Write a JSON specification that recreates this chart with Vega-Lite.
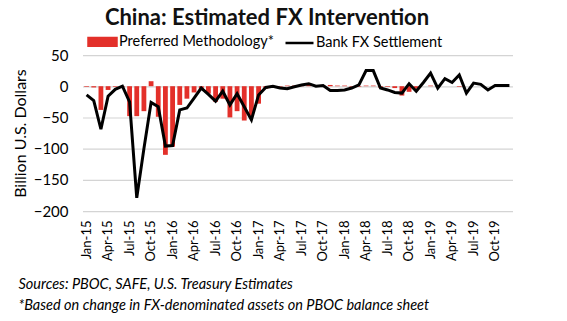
{
  "$schema": "https://vega.github.io/schema/vega-lite/v6.json",
  "width": 430,
  "height": 156,
  "autosize": {"type": "none"},
  "padding": {"left": 83, "top": 55, "right": 54, "bottom": 110},
  "background": "white",
  "config": {"font": "Lato", "view": {"stroke": null}},
  "title": {"text": "China: Estimated FX Intervention", "font": "Lato", "fontSize": 22, "fontWeight": "bold", "color": "#111111", "anchor": "middle", "frame": "group", "dx": -31, "offset": -4},
  "datasets": {
    "grid": [{"g": 50}, {"g": 0}, {"g": -50}, {"g": -100}, {"g": -150}, {"g": -200}],
    "main": [
    {"month": "Jan-15", "pm": -1, "bfx": -14},
    {"month": "Feb-15", "pm": -2, "bfx": -23},
    {"month": "Mar-15", "pm": -38, "bfx": -69},
    {"month": "Apr-15", "pm": -6, "bfx": -16},
    {"month": "May-15", "pm": -1, "bfx": -5},
    {"month": "Jun-15", "pm": -1, "bfx": 0},
    {"month": "Jul-15", "pm": -48, "bfx": -25},
    {"month": "Aug-15", "pm": -48, "bfx": -179},
    {"month": "Sep-15", "pm": -40, "bfx": -100},
    {"month": "Oct-15", "pm": 8, "bfx": -26},
    {"month": "Nov-15", "pm": -49, "bfx": -33},
    {"month": "Dec-15", "pm": -110, "bfx": -96},
    {"month": "Jan-16", "pm": -97, "bfx": -95},
    {"month": "Feb-16", "pm": -30, "bfx": -38},
    {"month": "Mar-16", "pm": -20, "bfx": -35},
    {"month": "Apr-16", "pm": -10, "bfx": -19},
    {"month": "May-16", "pm": -6, "bfx": -3},
    {"month": "Jun-16", "pm": -12, "bfx": -13},
    {"month": "Jul-16", "pm": -25, "bfx": -24},
    {"month": "Aug-16", "pm": -20, "bfx": -8},
    {"month": "Sep-16", "pm": -50, "bfx": -30},
    {"month": "Oct-16", "pm": -40, "bfx": -12},
    {"month": "Nov-16", "pm": -55, "bfx": -33},
    {"month": "Dec-16", "pm": -48, "bfx": -54},
    {"month": "Jan-17", "pm": -28, "bfx": -14},
    {"month": "Feb-17", "pm": -4, "bfx": -2},
    {"month": "Mar-17", "pm": -2, "bfx": 0},
    {"month": "Apr-17", "pm": -1, "bfx": -3},
    {"month": "May-17", "pm": 1, "bfx": -4},
    {"month": "Jun-17", "pm": 1, "bfx": -1},
    {"month": "Jul-17", "pm": 1, "bfx": 2},
    {"month": "Aug-17", "pm": 2, "bfx": 4},
    {"month": "Sep-17", "pm": 1, "bfx": 0},
    {"month": "Oct-17", "pm": 1, "bfx": 1},
    {"month": "Nov-17", "pm": 2, "bfx": -7},
    {"month": "Dec-17", "pm": 1, "bfx": -7},
    {"month": "Jan-18", "pm": 1, "bfx": -6},
    {"month": "Feb-18", "pm": -1, "bfx": -3},
    {"month": "Mar-18", "pm": -1, "bfx": 2},
    {"month": "Apr-18", "pm": 1, "bfx": 25},
    {"month": "May-18", "pm": 1, "bfx": 25},
    {"month": "Jun-18", "pm": -2, "bfx": -3},
    {"month": "Jul-18", "pm": -1, "bfx": -6},
    {"month": "Aug-18", "pm": -3, "bfx": -10},
    {"month": "Sep-18", "pm": -15, "bfx": -11},
    {"month": "Oct-18", "pm": -9, "bfx": 4},
    {"month": "Nov-18", "pm": -4, "bfx": -8},
    {"month": "Dec-18", "pm": 0, "bfx": 6},
    {"month": "Jan-19", "pm": 1, "bfx": 21},
    {"month": "Feb-19", "pm": -1, "bfx": -3},
    {"month": "Mar-19", "pm": 0, "bfx": 12},
    {"month": "Apr-19", "pm": 0, "bfx": 6},
    {"month": "May-19", "pm": -1, "bfx": 18},
    {"month": "Jun-19", "pm": 0, "bfx": -11},
    {"month": "Jul-19", "pm": 0, "bfx": 5},
    {"month": "Aug-19", "pm": 0, "bfx": 3},
    {"month": "Sep-19", "pm": 0, "bfx": -6},
    {"month": "Oct-19", "pm": 0, "bfx": 1},
    {"month": "Nov-19", "pm": 0, "bfx": 1},
    {"month": "Dec-19", "pm": 0, "bfx": 1}
  ]},
  "layer": [
    {
      "data": {"name": "grid"},
      "mark": {"type": "rect", "color": "#d4d4d4", "y2Offset": 1.2},
      "encoding": {
        "y": {
          "field": "g", "type": "quantitative",
          "scale": {"domain": [-200, 50], "nice": false, "zero": false},
          "axis": {
            "values": [50, 0, -50, -100, -150, -200],
            "title": "Billion U.S. Dollars", "titleFontSize": 16, "titleFontWeight": "normal", "titleColor": "#000000", "titlePadding": 5,
            "labelFontSize": 15, "labelColor": "#000000", "labelPadding": 15, "labelOverlap": false,
            "ticks": false, "grid": false, "domain": false
          }
        },
        "y2": {"field": "g"}
      }
    },
    {
      "data": {"name": "main"},
      "mark": {"type": "bar", "color": "#E3302A"},
      "encoding": {
        "x": {
          "field": "month", "type": "ordinal", "sort": null,
          "scale": {"paddingInner": 0.33, "paddingOuter": 0.165},
          "axis": {
            "values": ["Jan-15","Apr-15","Jul-15","Oct-15","Jan-16","Apr-16","Jul-16","Oct-16","Jan-17","Apr-17","Jul-17","Oct-17","Jan-18","Apr-18","Jul-18","Oct-18","Jan-19","Apr-19","Jul-19","Oct-19"],
            "labelAngle": -90, "labelFontSize": 13, "labelColor": "#000000", "labelPadding": 9, "labelOverlap": false,
            "ticks": false, "grid": false, "domain": false,
            "title": ["Sources: PBOC, SAFE, U.S. Treasury Estimates", "*Based on change in FX-denominated assets on PBOC balance sheet"],
            "titleFontStyle": "italic", "titleFontWeight": "normal", "titleFontSize": 14.5, "titleColor": "#000000",
            "titleAnchor": "start", "titleAlign": "left", "titleBaseline": "alphabetic",
            "titleX": -65, "titleY": 77, "titleLineHeight": 21, "titleLimit": 0
          }
        },
        "y": {
          "field": "pm", "type": "quantitative",
          "scale": {"domain": [-200, 50], "nice": false, "zero": false},
          "axis": {
            "values": [50, 0, -50, -100, -150, -200],
            "title": "Billion U.S. Dollars", "titleFontSize": 16, "titleFontWeight": "normal", "titleColor": "#000000", "titlePadding": 5,
            "labelFontSize": 15, "labelColor": "#000000", "labelPadding": 15, "labelOverlap": false,
            "ticks": false, "grid": false, "domain": false
          }
        },
        "color": {
          "datum": "Preferred Methodology*", "type": "nominal",
          "scale": {"domain": ["Preferred Methodology*", "Bank FX Settlement"], "range": ["#E3302A", "#000000"]},
          "legend": {
            "orient": "none", "legendX": 4, "legendY": -29, "direction": "horizontal", "title": null,
            "labelFontSize": 14.5, "labelColor": "#000000", "labelLimit": 0, "symbolSize": 784, "columnPadding": 6, "labelOffset": 1, "padding": 0,
            "encode": {"symbols": {"update": {
              "shape": {"signal": "datum.value === 'Bank FX Settlement' ? 'M-1,0H1' : 'M-1,-0.27H1V0.27H-1Z'"},
              "fill": {"signal": "datum.value === 'Bank FX Settlement' ? 'transparent' : '#E3302A'"},
              "stroke": {"signal": "datum.value === 'Bank FX Settlement' ? '#000000' : 'transparent'"},
              "strokeWidth": {"value": 2.5},
              "opacity": {"value": 1}
            }}}
          }
        }
      }
    },
    {
      "data": {"name": "main"},
      "mark": {"type": "line", "strokeWidth": 3, "color": "#000000"},
      "encoding": {
        "x": {"field": "month", "type": "ordinal", "sort": null, "bandPosition": 0.5},
        "y": {
          "field": "bfx", "type": "quantitative",
          "scale": {"domain": [-200, 50], "nice": false, "zero": false},
          "axis": {
            "values": [50, 0, -50, -100, -150, -200],
            "title": "Billion U.S. Dollars", "titleFontSize": 16, "titleFontWeight": "normal", "titleColor": "#000000", "titlePadding": 5,
            "labelFontSize": 15, "labelColor": "#000000", "labelPadding": 15, "labelOverlap": false,
            "ticks": false, "grid": false, "domain": false
          }
        },
        "color": {"datum": "Bank FX Settlement", "type": "nominal"}
      }
    }
  ]
}
